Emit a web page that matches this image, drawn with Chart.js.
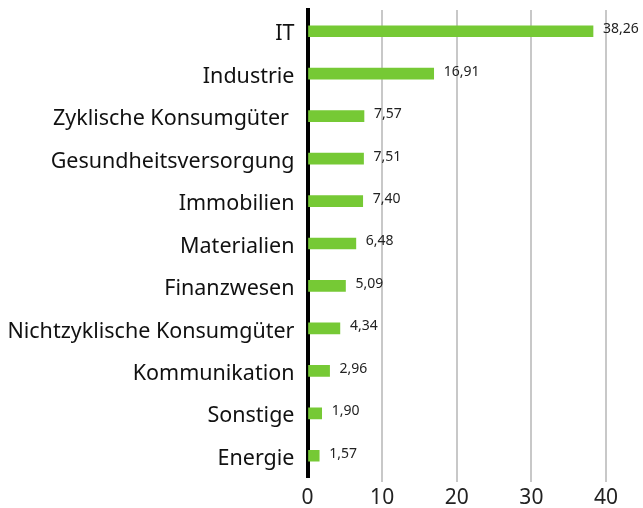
<!DOCTYPE html>
<html>
<head>
<meta charset="utf-8">
<script src="https://cdn.jsdelivr.net/npm/chart.js@4"></script>
<style>
  html, body { margin: 0; padding: 0; background: #ffffff; }
  #wrap { width: 643px; height: 508px; }
</style>
</head>
<body>
<div id="wrap"><canvas id="sectorChart"></canvas></div>
<script>
// Sector weights (%)
const sectors = [
  'IT', 'Industrie', 'Zyklische Konsumgüter ', 'Gesundheitsversorgung', 'Immobilien',
  'Materialien', 'Finanzwesen', 'Nichtzyklische Konsumgüter', 'Kommunikation', 'Sonstige', 'Energie'
];
const weights = [38.26, 16.91, 7.57, 7.51, 7.40, 6.48, 5.09, 4.34, 2.96, 1.90, 1.57];
const xTicks = [0, 10, 20, 30, 40];

const fontFamily = "'Noto Sans', sans-serif";

// Draw value labels at the end of each bar (German decimal comma)
const valueLabels = {
  id: 'valueLabels',
  afterDatasetsDraw(chart) {
    const ctx = chart.ctx;
    const meta = chart.getDatasetMeta(0);
    ctx.save();
    ctx.font = '14px ' + fontFamily;
    ctx.fillStyle = '#222222';
    ctx.textAlign = 'left';
    ctx.textBaseline = 'middle';
    meta.data.forEach((bar, i) => {
      const txt = weights[i].toFixed(2).replace('.', ',');
      ctx.fillText(txt, bar.x + 10, bar.y - 2);
    });
    ctx.restore();
  }
};

new Chart(document.getElementById('sectorChart'), {
  type: 'bar',
  data: {
    labels: sectors,
    datasets: [{
      data: weights,
      backgroundColor: '#76c935',
      barThickness: 11
    }]
  },
  plugins: [valueLabels],
  options: {
    indexAxis: 'y',
    responsive: true,
    maintainAspectRatio: false,
    animation: false,
    layout: { padding: { top: 10, right: 37, bottom: 0, left: 9 } },
    plugins: {
      legend: { display: false },
      tooltip: { enabled: false }
    },
    scales: {
      x: {
        min: 0,
        max: 40,
        afterBuildTicks: (axis) => { axis.ticks = xTicks.map(v => ({ value: v })); },
        afterFit: (axis) => { axis.height = 31; },
        grid: {
          color: (c) => c.tick && c.tick.value === 0 ? 'rgba(0,0,0,0)' : '#c8c8c8',
          lineWidth: 2,
          drawTicks: true,
          tickLength: 5
        },
        border: { display: false },
        ticks: {
          color: '#222222',
          font: { family: fontFamily, size: 21 },
          padding: 3
        }
      },
      y: {
        afterFit: (axis) => { axis.paddingTop = 0; axis.paddingBottom = 0; },
        grid: { display: false },
        border: { display: true, color: '#000000', width: 4 },
        ticks: {
          color: '#111111',
          font: { family: fontFamily, size: 21.5 },
          padding: 5,
          labelOffset: 3
        }
      }
    }
  }
});
</script>
</body>
</html>
